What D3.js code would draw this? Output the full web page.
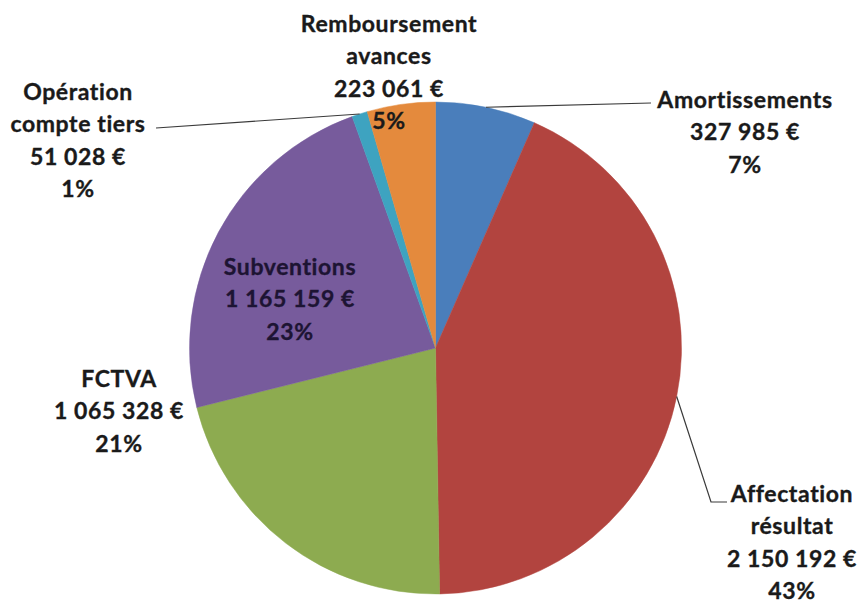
<!DOCTYPE html>
<html>
<head>
<meta charset="utf-8">
<script src="https://cdn.jsdelivr.net/npm/d3@7"></script>
<style>
  html, body { margin: 0; padding: 0; background: #fff; }
  svg text { font-family: Lato, "Open Sans", sans-serif; font-weight: 700; }
</style>
</head>
<body>
<svg id="chart" width="861" height="603"></svg>
<script>
// Recettes d'investissement, par poste (montants en euros)
const categories = [
  "Amortissements",
  "Affectation résultat",
  "FCTVA",
  "Subventions",
  "Opération compte tiers",
  "Remboursement avances"
];
const values = [327985, 2150192, 1065328, 1165159, 51028, 223061];
const percentLabels = ["7%", "43%", "21%", "23%", "1%", "5%"];
const colors = ["#4a7ebb", "#b2443f", "#8dab50", "#775b9c", "#3ea3c0", "#e48a3d"];

// Label text split across lines
const labelLines = [
  ["Amortissements"],
  ["Affectation", "résultat"],
  ["FCTVA"],
  ["Subventions"],
  ["Opération", "compte tiers"],
  ["Remboursement", "avances"]
];

// Label placement: centre x, first baseline y, optional leader line to the arc
const labelLayout = [
  { x: 745, y: 108, leader: [[651, 103]] },
  { x: 792, y: 502, leader: [[727, 502], [711, 502]] },
  { x: 119, y: 387 },
  { x: 290, y: 275, fill: "#1d1433" },
  { x: 78, y: 100, leader: [[156, 128]] },
  { x: 389, y: 32 }
];

const cx = 435.5, cy = 348, r = 246;
const lineH = 32.3;

const svg = d3.select("#chart");
const g = svg.append("g").attr("transform", `translate(${cx},${cy})`);

const fr = d3.formatLocale({ decimal: ",", thousands: "\u00a0", grouping: [3], currency: ["", " €"] });
const fmt = fr.format(",d");

const pie = d3.pie().sort(null).value(d => d)(values);
const arc = d3.arc().innerRadius(0).outerRadius(r);

g.selectAll("path.slice")
  .data(pie)
  .join("path")
  .attr("class", "slice")
  .attr("d", arc)
  .attr("fill", (d, i) => colors[i])
  .attr("stroke", (d, i) => colors[i])
  .attr("stroke-width", 0.5);

// Leader lines from the label to the middle of the slice's outer edge
pie.forEach((d, i) => {
  const L = labelLayout[i];
  if (!L.leader) return;
  const mid = (d.startAngle + d.endAngle) / 2;
  const px = cx + r * Math.sin(mid), py = cy - r * Math.cos(mid);
  const pts = L.leader.concat([[px, py]]);
  svg.append("path")
    .attr("d", d3.line()(pts))
    .attr("fill", "none")
    .attr("stroke", "#3a3a3a")
    .attr("stroke-width", 1.2);
});

// Data labels: name, amount, percentage
pie.forEach((d, i) => {
  const L = labelLayout[i];
  const col = L.fill || "#1a1a1a";
  const lines = labelLines[i].concat([fmt(values[i]) + "\u00a0€", percentLabels[i]]);
  const t = svg.append("text")
    .attr("text-anchor", "middle")
    .attr("font-size", 23)
    .attr("letter-spacing", 0.6)
    .attr("fill", col)
    .attr("stroke", col)
    .attr("stroke-width", 0.35);
  lines.forEach((s, k) => {
    t.append("tspan").attr("x", L.x).attr("y", L.y + k * lineH).text(s);
  });
});
</script>
</body>
</html>
